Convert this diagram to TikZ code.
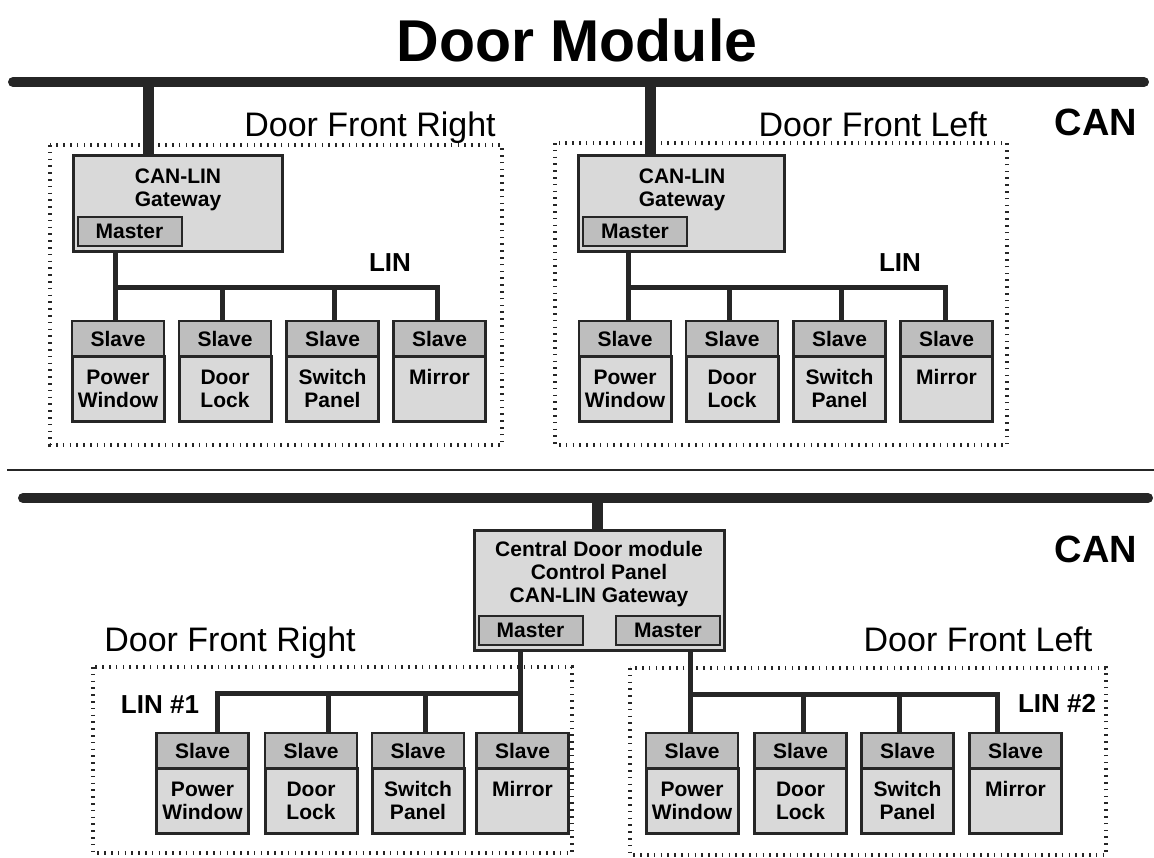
\documentclass[tikz,border=0pt]{standalone}
\usepackage{fontspec}
\setmainfont{Liberation Sans}
\usepackage{tikz}
\usetikzlibrary{positioning}
\usepackage{xcolor}
\definecolor{inkc}{HTML}{262626}
\definecolor{boxgray}{HTML}{D9D9D9}
\definecolor{headgray}{HTML}{BEBEBE}
\newcommand{\dmboxfont}{\fontsize{10.5}{11.5}\selectfont\bfseries}

\begin{document}
\begin{tikzpicture}[x=0.5pt, y=-0.5pt,
  canbus/.style={draw=inkc, line width=5pt, line cap=round},
  canstub/.style={draw=inkc, line width=5.5pt},
  linbus/.style={draw=inkc, line width=2.5pt},
  sepline/.style={draw=inkc, line width=1.2pt},
  zone/.style={draw=inkc, line width=2pt, dash pattern=on 0.8pt off 2.6pt},
  gwbox/.style={draw=inkc, line width=1.5pt, fill=boxgray, inner sep=0pt, outer sep=0pt},
  gwtext/.style={align=center, font=\dmboxfont, inner sep=0pt},
  masterbox/.style={draw=inkc, line width=1pt, fill=headgray, minimum width=52pt, minimum height=14.5pt, inner sep=0pt, font=\dmboxfont},
  slavehead/.style={draw=inkc, line width=1.2pt, fill=headgray, minimum width=46pt, minimum height=17.5pt, inner sep=0pt, outer sep=0pt, font=\dmboxfont},
  slavebody/.style={draw=inkc, line width=1.5pt, fill=boxgray, minimum width=46pt, minimum height=32.5pt, inner sep=0pt, outer sep=0pt, align=center, font=\dmboxfont},
  titlelbl/.style={font=\fontsize{29.5}{32}\selectfont\bfseries, inner sep=0pt},
  grouplbl/.style={font=\fontsize{17}{20}\selectfont, inner sep=0pt, anchor=base},
  canlbl/.style={font=\fontsize{19}{22}\selectfont\bfseries, inner sep=0pt},
  linlbl/.style={font=\fontsize{13}{15}\selectfont\bfseries, inner sep=0pt}]
  \useasboundingbox (0,0) rectangle (1154,857);

  % Title and upper CAN bus
  \node[titlelbl] (title) at (577,40) {Door Module};
  \coordinate (canupw) at (13,82);
  \coordinate (canupe) at (1144,82);
  \draw[canbus] (canupw) -- (canupe);
  \node[canlbl] (canup) at (1096,122) {CAN};

  % Zones of the upper half
  \draw[zone] (50,145) rectangle (502,445);
  \draw[zone] (555,143) rectangle (1007,445);
  \node[grouplbl] (frtitle) at (370,136) {Door Front Right};
  \node[grouplbl] (fltitle) at (873,136) {Door Front Left};

  % Gateways
  \coordinate (canra) at (148,82);
  \coordinate (canla) at (650,82);
  \node[gwbox, minimum width=104.5pt, minimum height=48pt] (gwr) at (177.5,203) {};
  \node[gwtext] (gwrtext) at (178,190) {CAN-LIN\\Gateway};
  \node[masterbox] (gwrm) at (129.5,231.5) {Master};
  \node[gwbox, minimum width=103pt, minimum height=48pt] (gwl) at (681,203) {};
  \node[gwtext] (gwltext) at (682,190) {CAN-LIN\\Gateway};
  \node[masterbox] (gwlm) at (635,231) {Master};
  \draw[canstub] (canra) -- (canra |- gwr.north);
  \draw[canstub] (canla) -- (canla |- gwl.north);

  % Slaves, Door Front Right (upper)
  \node[slavebody] (fr1) at (118,388.5) {Power\\Window};
  \node[slavehead, above=0pt of fr1] (fr1h) {Slave};
  \node[slavebody] (fr2) at (225,388.5) {Door\\Lock};
  \node[slavehead, above=0pt of fr2] (fr2h) {Slave};
  \node[slavebody] (fr3) at (332.5,388.5) {Switch\\Panel};
  \node[slavehead, above=0pt of fr3] (fr3h) {Slave};
  \node[slavebody] (fr4) at (439.5,388.5) {Mirror\\\phantom{Window}};
  \node[slavehead, above=0pt of fr4] (fr4h) {Slave};

  % Slaves, Door Front Left (upper)
  \node[slavebody] (fl1) at (625,388.5) {Power\\Window};
  \node[slavehead, above=0pt of fl1] (fl1h) {Slave};
  \node[slavebody] (fl2) at (732,388.5) {Door\\Lock};
  \node[slavehead, above=0pt of fl2] (fl2h) {Slave};
  \node[slavebody] (fl3) at (839.5,388.5) {Switch\\Panel};
  \node[slavehead, above=0pt of fl3] (fl3h) {Slave};
  \node[slavebody] (fl4) at (946.5,388.5) {Mirror\\\phantom{Window}};
  \node[slavehead, above=0pt of fl4] (fl4h) {Slave};

  % LIN buses (upper)
  \coordinate (linra) at (115,287);
  \coordinate (linrb) at (222,287);
  \coordinate (linrc) at (334,287);
  \coordinate (linrd) at (437,287);
  \draw[linbus] (linra |- gwr.south) -- (linra |- fr1h.north);
  \draw[linbus] (linra) -- (linrd) -- (linrd |- fr4h.north);
  \draw[linbus] (linrb) -- (linrb |- fr2h.north);
  \draw[linbus] (linrc) -- (linrc |- fr3h.north);
  \node[linlbl] (linr) at (390,263) {LIN};

  \coordinate (linla) at (628,287);
  \coordinate (linlb) at (729,287);
  \coordinate (linlc) at (841,287);
  \coordinate (linld) at (945,287);
  \draw[linbus] (linla |- gwl.south) -- (linla |- fl1h.north);
  \draw[linbus] (linla) -- (linld) -- (linld |- fl4h.north);
  \draw[linbus] (linlb) -- (linlb |- fl2h.north);
  \draw[linbus] (linlc) -- (linlc |- fl3h.north);
  \node[linlbl] (linl) at (900,263) {LIN};

  % Separator
  \coordinate (sepw) at (7,470);
  \coordinate (sepe) at (1154,470);
  \draw[sepline] (sepw) -- (sepe);

  % Lower CAN bus and central module
  \coordinate (canlow) at (23,498);
  \coordinate (canloe) at (1148,498);
  \draw[canbus] (canlow) -- (canloe);
  \node[canlbl] (canlo) at (1096,549) {CAN};
  \coordinate (canca) at (597,498);
  \node[gwbox, minimum width=125pt, minimum height=60pt] (cdm) at (599,590) {};
  \node[gwtext] (cdmtext) at (599,574.5) {Central Door module\\Control Panel\\CAN-LIN Gateway};
  \node[masterbox] (cdm1) at (530.5,630.5) {Master};
  \node[masterbox] (cdm2) at (668,630.5) {Master};
  \draw[canstub] (canca) -- (canca |- cdm.north);

  % Zones of the lower half
  \draw[zone] (93,667) rectangle (572,853);
  \draw[zone] (630,668) rectangle (1106,855);
  \node[grouplbl] (lrtitle) at (230,651) {Door Front Right};
  \node[grouplbl] (lltitle) at (978,651) {Door Front Left};
  \node[linlbl] (lin1) at (160,705) {LIN \#1};
  \node[linlbl] (lin2) at (1057,703) {LIN \#2};

  % Slaves, Door Front Right (lower)
  \node[slavebody] (lr1) at (202.5,800.5) {Power\\Window};
  \node[slavehead, above=0pt of lr1] (lr1h) {Slave};
  \node[slavebody] (lr2) at (311,800.5) {Door\\Lock};
  \node[slavehead, above=0pt of lr2] (lr2h) {Slave};
  \node[slavebody] (lr3) at (418,800.5) {Switch\\Panel};
  \node[slavehead, above=0pt of lr3] (lr3h) {Slave};
  \node[slavebody] (lr4) at (522.5,800.5) {Mirror\\\phantom{Window}};
  \node[slavehead, above=0pt of lr4] (lr4h) {Slave};

  % Slaves, Door Front Left (lower)
  \node[slavebody] (ll1) at (692,800.5) {Power\\Window};
  \node[slavehead, above=0pt of ll1] (ll1h) {Slave};
  \node[slavebody] (ll2) at (800.5,800.5) {Door\\Lock};
  \node[slavehead, above=0pt of ll2] (ll2h) {Slave};
  \node[slavebody] (ll3) at (907.5,800.5) {Switch\\Panel};
  \node[slavehead, above=0pt of ll3] (ll3h) {Slave};
  \node[slavebody] (ll4) at (1015.5,800.5) {Mirror\\\phantom{Window}};
  \node[slavehead, above=0pt of ll4] (ll4h) {Slave};

  % LIN #1 and LIN #2
  \coordinate (lin1a) at (217,693);
  \coordinate (lin1b) at (328,693);
  \coordinate (lin1c) at (425,693);
  \coordinate (lin1d) at (520,693);
  \draw[linbus] (lin1d |- cdm.south) -- (lin1d |- lr4h.north);
  \draw[linbus] (lin1d) -- (lin1a) -- (lin1a |- lr1h.north);
  \draw[linbus] (lin1b) -- (lin1b |- lr2h.north);
  \draw[linbus] (lin1c) -- (lin1c |- lr3h.north);

  \coordinate (lin2a) at (690,694);
  \coordinate (lin2b) at (803,694);
  \coordinate (lin2c) at (899,694);
  \coordinate (lin2d) at (997,694);
  \draw[linbus] (lin2a |- cdm.south) -- (lin2a |- ll1h.north);
  \draw[linbus] (lin2a) -- (lin2d) -- (lin2d |- ll4h.north);
  \draw[linbus] (lin2b) -- (lin2b |- ll2h.north);
  \draw[linbus] (lin2c) -- (lin2c |- ll3h.north);
\end{tikzpicture}
\end{document}
